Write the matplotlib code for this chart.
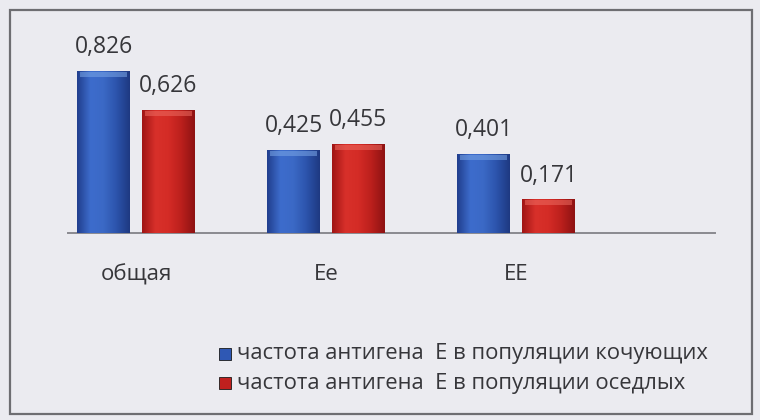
import numpy as np
import matplotlib
matplotlib.use("Agg")
import matplotlib.pyplot as plt
from matplotlib.colors import LinearSegmentedColormap
from matplotlib.patches import Rectangle

plt.rcParams['font.family'] = ['Open Sans', 'DejaVu Sans']

categories = ["общая", "Ee", "EE"]
nomads = [0.826, 0.425, 0.401]
settled = [0.626, 0.455, 0.171]
value_labels_nomads = ["0,826", "0,425", "0,401"]
value_labels_settled = ["0,626", "0,455", "0,171"]
legend_labels = [
    "частота антигена  Е в популяции кочующих",
    "частота антигена  Е в популяции оседлых",
]

W, H = 760, 420
fig = plt.figure(figsize=(W / 100, H / 100), dpi=100)
bg = "#ebebf0"
fig.patch.set_facecolor(bg)

# outer frame of the chart area
frame = Rectangle((10 / W, 1 - 414 / H), 742 / W, 404 / H, transform=fig.transFigure,
                  fill=False, edgecolor="#6e6e72", linewidth=1.6)
fig.add_artist(frame)

# plot area: baseline at y=233 px, x from 68 to 715 px
x0, x1 = 68, 715
ytop, ybase = 20, 233
ax = fig.add_axes([x0 / W, 1 - ybase / H, (x1 - x0) / W, (ybase - ytop) / H])
ax.patch.set_alpha(0)
px_per_cat = 190.0
ax.set_xlim((x0 - 136) / px_per_cat, (x1 - 136) / px_per_cat)
ax.set_ylim(0, (ybase - ytop) / 196.0)
for s in ["top", "right", "left"]:
    ax.spines[s].set_visible(False)
ax.spines["bottom"].set_color("#8a8a90")
ax.spines["bottom"].set_linewidth(1.4)
ax.set_yticks([])
ax.set_xticks([])

bw = 53 / px_per_cat
off = (53 / 2 + 6) / px_per_cat
xs = np.arange(len(categories))

blue_cmap = LinearSegmentedColormap.from_list(
    "b", ["#213f8e", "#3d6ccc", "#3b69c6", "#2c54ac", "#1e3982"])
red_cmap = LinearSegmentedColormap.from_list(
    "r", ["#a01515", "#d8302a", "#d42c26", "#bb1f1c", "#8e1313"])

b1 = ax.bar(xs - off, nomads, bw, color="#3563c0", zorder=2, label=legend_labels[0])
b2 = ax.bar(xs + off, settled, bw, color="#cc2622", zorder=2, label=legend_labels[1])

grad = np.linspace(0, 1, 64).reshape(1, -1)
for bars, cmap, cap in [(b1, blue_cmap, "#7aa6e6"), (b2, red_cmap, "#ec6a60")]:
    for r in bars:
        x, w, h = r.get_x(), r.get_width(), r.get_height()
        im = ax.imshow(grad, cmap=cmap, aspect="auto", extent=(x, x + w, 0, h),
                       zorder=3, interpolation="bicubic")
        im.set_clip_path(r)
        # lighter top edge
        capband = Rectangle((x + w * 0.05, h - 0.03), w * 0.90, 0.025,
                            facecolor=cap, edgecolor="none", alpha=0.55, zorder=4)
        ax.add_patch(capband)

txt = "#36363a"
for bars, labels in [(b1, value_labels_nomads), (b2, value_labels_settled)]:
    for r, lab in zip(bars, labels):
        ax.text(r.get_x() + r.get_width() / 2, r.get_height() + 0.122, lab,
                ha="center", va="center", fontsize=16.5, color=txt)

for xi, c in zip(xs, categories):
    ax.text(xi, -42 / 196.0, c, ha="center", va="center", fontsize=16,
            color=txt, clip_on=False)

# legend
leg_colors = ["#2f58b4", "#c0201e"]
leg_y = [354, 383]
for col, lab, yy in zip(leg_colors, legend_labels, leg_y):
    fig.add_artist(Rectangle((219 / W, 1 - (yy + 6) / H), 12 / W, 12 / H,
                             transform=fig.transFigure, facecolor=col,
                             edgecolor="#1a1a1a", linewidth=0.6))
    fig.text(237 / W, 1 - yy / H, lab, ha="left", va="center", fontsize=15.8,
             color=txt)

fig.savefig("out.png", dpi=100, facecolor=bg)
